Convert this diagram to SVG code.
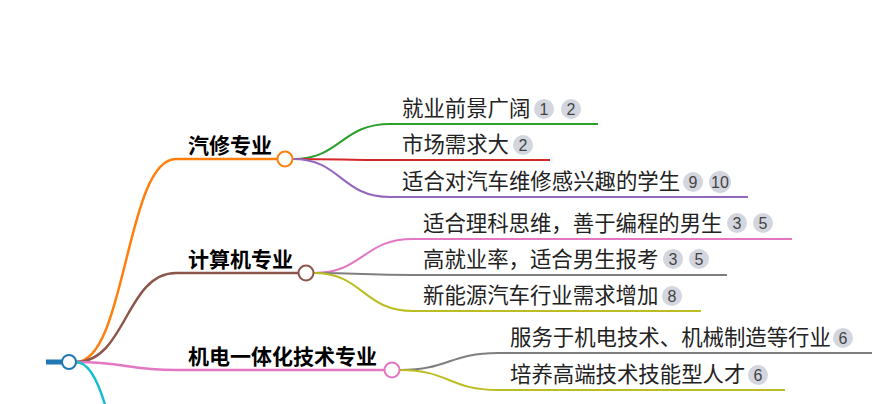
<svg xmlns="http://www.w3.org/2000/svg" width="878" height="404" viewBox="0 0 878 404">
<style>
.t{font-family:"Noto Sans CJK SC","Noto Sans",sans-serif;font-size:21.4px;fill:#222}
.b{font-weight:bold;fill:#000;font-size:21px}
.bg{fill:#d3d6de}
.bn{font-family:"Liberation Sans","Noto Sans",sans-serif;font-size:16px;fill:#444;text-anchor:middle}
.l{fill:none;stroke-width:2}
.l1{fill:none;stroke-width:2.5}
.c{fill:#fff;stroke-width:2}
</style>
<rect width="878" height="404" fill="#fff"/>
<g id="connectors">
<path d="M46,362 L62,362" stroke="#1f77b4" stroke-width="5" fill="none"/>
<path class="l1" stroke="#ff7f0e" d="M76,362 C126,362 126,159 176,159 L277,159"/>
<path class="l1" stroke="#8c564b" d="M76,362 C126,362 126,273 176,273 L298,273"/>
<path class="l1" stroke="#e377c2" d="M76,362 C126,362 126,370 176,370 L384,370"/>
<path class="l1" stroke="#17becf" d="M76,362 C126,362 126,650 176,650"/>
<path class="l" stroke="#2ca02c" d="M293,159 C341,159 341,124 390,124 L598,124"/>
<path class="l" stroke="#d62728" d="M293,159 C341,159 341,160 390,160 L550,160"/>
<path class="l" stroke="#9467bd" d="M293,159 C341,159 341,197 390,197 L748,197"/>
<path class="l" stroke="#e377c2" d="M314,273 C363,273 363,239 413,239 L792,239"/>
<path class="l" stroke="#7f7f7f" d="M314,273 C363,273 363,275 413,275 L727,275"/>
<path class="l" stroke="#bcbd22" d="M314,273 C363,273 363,311 413,311 L701,311"/>
<path class="l" stroke="#7f7f7f" d="M400,370 C449,370 449,353 498,353 L872,353"/>
<path class="l" stroke="#bcbd22" d="M400,370 C449,370 449,390 498,390 L785,390"/>
</g>
<g id="root"><circle class="c" cx="69" cy="362" r="7" stroke="#1f77b4"/></g>
<g id="n-qixiu">
<text class="t b" x="188" y="153">汽修专业</text>
<circle class="c" cx="285" cy="159" r="7.5" stroke="#ff7f0e"/>
</g>
<g id="n-jisuanji">
<text class="t b" x="188" y="267">计算机专业</text>
<circle class="c" cx="306" cy="273" r="7.5" stroke="#8c564b"/>
</g>
<g id="n-jidian">
<text class="t b" x="188" y="364">机电一体化技术专业</text>
<circle class="c" cx="392" cy="370" r="7.5" stroke="#e377c2"/>
</g>
<g id="n-q1">
<text class="t" x="402" y="116">就业前景广阔</text>
<circle class="bg" cx="544" cy="109" r="10"/><text class="bn" x="544" y="115">1</text>
<circle class="bg" cx="571" cy="109" r="10"/><text class="bn" x="571" y="115">2</text>
</g>
<g id="n-q2">
<text class="t" x="402" y="152">市场需求大</text>
<circle class="bg" cx="523" cy="145" r="10"/><text class="bn" x="523" y="151">2</text>
</g>
<g id="n-q3">
<text class="t" x="402" y="189">适合对汽车维修感兴趣的学生</text>
<circle class="bg" cx="693" cy="182" r="10"/><text class="bn" x="693" y="188">9</text>
<circle class="bg" cx="720" cy="182" r="11"/><text class="bn" x="720" y="188">10</text>
</g>
<g id="n-j1">
<text class="t" x="423" y="231">适合理科思维，善于编程的男生</text>
<circle class="bg" cx="737" cy="223" r="10"/><text class="bn" x="737" y="229">3</text>
<circle class="bg" cx="763" cy="223" r="10"/><text class="bn" x="763" y="229">5</text>
</g>
<g id="n-j2">
<text class="t" x="423" y="267">高就业率，适合男生报考</text>
<circle class="bg" cx="673" cy="259" r="10"/><text class="bn" x="673" y="265">3</text>
<circle class="bg" cx="699" cy="259" r="10"/><text class="bn" x="699" y="265">5</text>
</g>
<g id="n-j3">
<text class="t" x="423" y="303">新能源汽车行业需求增加</text>
<circle class="bg" cx="672" cy="296" r="10"/><text class="bn" x="672" y="302">8</text>
</g>
<g id="n-m1">
<text class="t" x="510" y="345">服务于机电技术、机械制造等行业</text>
<circle class="bg" cx="843" cy="338" r="10"/><text class="bn" x="843" y="344">6</text>
</g>
<g id="n-m2">
<text class="t" x="510" y="382">培养高端技术技能型人才</text>
<circle class="bg" cx="758" cy="375" r="10"/><text class="bn" x="758" y="381">6</text>
</g>
</svg>
